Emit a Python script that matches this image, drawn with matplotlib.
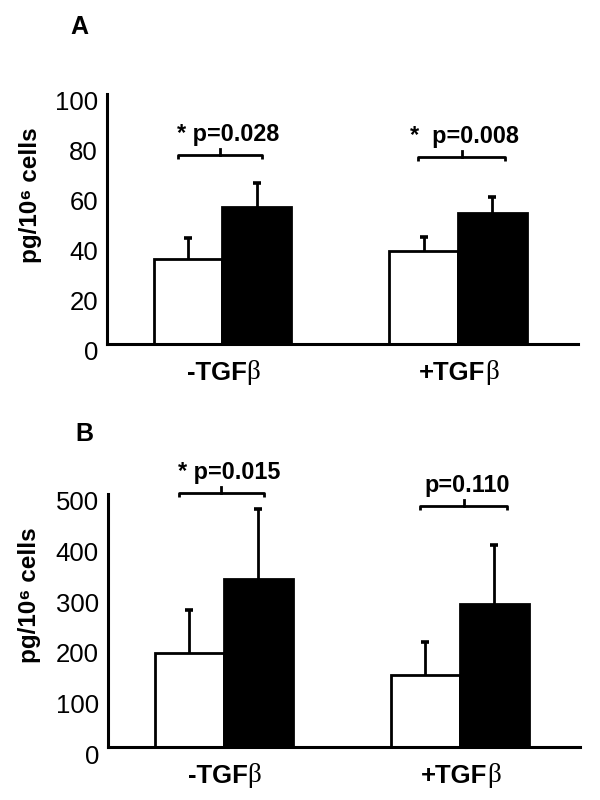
import matplotlib
matplotlib.use("Agg")
import matplotlib.pyplot as plt
import numpy as np
from matplotlib.transforms import ScaledTranslation

plt.rcParams['font.family'] = ['Liberation Sans', 'DejaVu Sans']

# ---- data ----
categories = ['-TGFβ', '+TGFβ']

a_white = [34.0, 37.2]
a_white_err = [8.4, 5.6]
a_black = [54.8, 52.4]
a_black_err = [9.6, 6.4]
a_pvals = ['* p=0.028', '*  p=0.008']
a_yticks = [0, 20, 40, 60, 80, 100]

b_white = [186, 142]
b_white_err = [85, 66]
b_black = [332, 283]
b_black_err = [138, 116]
b_pvals = ['* p=0.015', 'p=0.110']
b_yticks = [0, 100, 200, 300, 400, 500]

# bracket levels (data units) and horizontal extents relative to group centre
a_bracket_y = [75.6, 74.8]
b_bracket_y = [502, 476]
bracket_x = [(-0.19, 0.17, -0.01), (-0.17, 0.20, 0.017)]
text_dx = [0.025, 0.03]

fig = plt.figure(figsize=(6, 8), dpi=100)

def upper_err(ax, xs, ys, errs, z):
    xs = np.asarray(xs); ys = np.asarray(ys); errs = np.asarray(errs)
    ax.vlines(xs, ys, ys + errs, color='black', lw=2.0, zorder=z)
    ax.plot(xs, ys + errs, ls='none', marker='_', ms=5.6, mew=2.6, color='black', zorder=z)

def panel(rect, white, werr, black, berr, yticks, pvals, bracket_y, letter, letter_xy, ylabel_xy):
    ax = fig.add_axes(rect)
    x = np.arange(len(categories))
    w = 0.292
    ax.bar(x - w / 2, white, w, color='white', edgecolor='black', linewidth=2.0, zorder=2)
    ax.bar(x + w / 2, black, w, color='black', edgecolor='black', linewidth=2.0, zorder=2)
    upper_err(ax, x - w / 2, white, werr, 3)
    upper_err(ax, x + w / 2, black, berr, 1)
    ymax = yticks[-1]
    ax.set_ylim(0, ymax)
    ax.set_xlim(-0.49, 1.51)
    ax.set_yticks(yticks)
    ax.set_yticklabels([str(t) for t in yticks], fontsize=18.5)
    ax.tick_params(axis='y', length=0, pad=6.5)
    ax.set_xticks([])
    for lbl in ax.get_yticklabels():
        lbl.set_transform(lbl.get_transform() + ScaledTranslation(0, -7 / 100, fig.dpi_scale_trans))
    for s in ['top', 'right']:
        ax.spines[s].set_visible(False)
    for s in ['left', 'bottom']:
        ax.spines[s].set_linewidth(2.2)
    ax.set_ylabel('pg/10⁶ cells', fontsize=17.5, fontweight='bold')
    ax.yaxis.set_label_coords(*ylabel_xy)

    # category labels
    for i, cat in enumerate(categories):
        t = ax.text(i - 0.025, -0.115, cat[:-1], transform=ax.get_xaxis_transform(),
                    ha='center', va='center', fontsize=18.5, fontweight='bold')
        ax.annotate(cat[-1], xy=(1, 0), xycoords=t, ha='left', va='bottom',
                    fontsize=19.5, family='Liberation Serif', annotation_clip=False)

    # brackets
    pix = ymax / 250.0
    for i, (by, (x0, x1, xc), p) in enumerate(zip(bracket_y, bracket_x, pvals)):
        xs = [i + x0, i + x0, i + x1, i + x1]
        ys = [by - 4 * pix, by, by, by - 4 * pix]
        ax.plot(xs, ys, color='black', lw=2.0, clip_on=False, solid_capstyle='butt')
        ax.plot([i + xc, i + xc], [by, by + 6 * pix], color='black', lw=2.0, clip_on=False)
        ax.text(i + text_dx[i], by + 13.5 * pix, p, ha='center', va='baseline',
                fontsize=16.8, fontweight='bold', clip_on=False)
    fig.text(letter_xy[0], letter_xy[1], letter, ha='center', va='center',
             fontsize=18, fontweight='bold')
    return ax

panel([107 / 600, 1 - 344 / 800, 471 / 600, 250 / 800], a_white, a_white_err, a_black, a_black_err,
      a_yticks, a_pvals, a_bracket_y, 'A', (79.5 / 600, 1 - 26.5 / 800), (-0.138, 0.594))
panel([108 / 600, 1 - 747 / 800, 472 / 600, 253 / 800], b_white, b_white_err, b_black, b_black_err,
      b_yticks, b_pvals, b_bracket_y, 'B', (84 / 600, 1 - 434 / 800), (-0.142, 0.60))

fig.savefig('out.png', dpi=100)
